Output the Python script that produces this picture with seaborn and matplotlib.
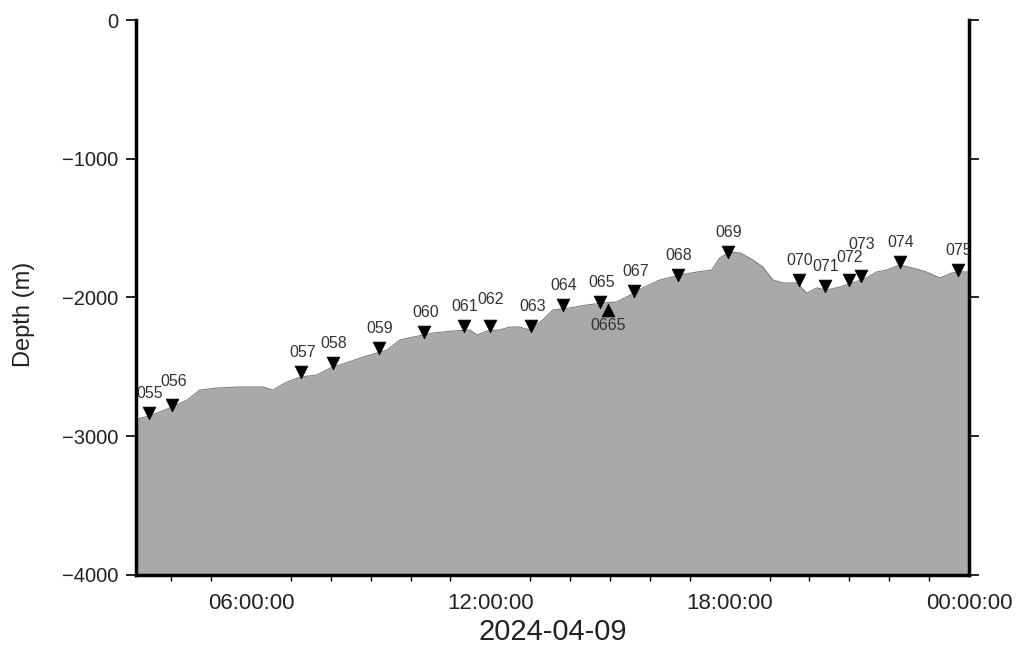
import matplotlib
matplotlib.use("Agg")
import matplotlib.pyplot as plt
import matplotlib.dates as mdates
import seaborn as sns
import pandas as pd

# ---- data ----
DAY = "2024-04-09"
profile_times = ["03:07", "03:28", "03:58", "04:24", "04:43", "05:09", "05:43", "06:18",
                 "06:33", "06:41", "06:54", "07:14", "07:39", "07:59", "08:14", "08:49",
                 "09:25", "09:44", "10:04", "10:34", "11:04", "11:29", "11:40", "11:55",
                 "12:14", "12:29", "12:44", "12:59", "13:19", "13:34", "13:59", "14:25",
                 "14:49", "15:10", "15:25", "15:49", "16:15", "16:45", "17:11", "17:33",
                 "17:45", "18:00", "18:16", "18:35", "18:50", "19:05", "19:20", "19:41",
                 "19:56", "20:11", "20:26", "20:46", "21:05", "21:26", "21:41", "21:56",
                 "22:16", "22:35", "22:56", "23:16", "23:35", "23:50", "23:59"]
profile_depth = [-2876, -2854, -2796, -2739, -2667, -2652, -2645, -2645,
                 -2667, -2645, -2609, -2573, -2559, -2508, -2486, -2429,
                 -2378, -2306, -2285, -2256, -2241, -2234, -2270, -2241,
                 -2234, -2213, -2213, -2234, -2162, -2090, -2076, -2054,
                 -2040, -2032, -1996, -1931, -1874, -1838, -1816, -1802,
                 -1715, -1672, -1679, -1730, -1780, -1874, -1895, -1895,
                 -1968, -1931, -1946, -1924, -1895, -1859, -1816, -1802,
                 -1766, -1787, -1816, -1859, -1823, -1816, -1816]

station_names = ["055", "056", "057", "058", "059", "060", "061", "062", "063", "064",
                 "065", "067", "068", "069", "070", "071", "072", "073", "074", "075"]
station_times = ["03:26", "04:01", "07:15", "08:03", "09:12", "10:20", "11:20", "11:59",
                 "13:01", "13:49", "14:45", "15:36", "16:42", "17:57", "19:44", "20:23",
                 "20:59", "21:17", "22:16", "23:43"]
station_depth = [-2832, -2775, -2537, -2472, -2364, -2249, -2205, -2205, -2205, -2054,
                 -2032, -1953, -1838, -1672, -1874, -1917, -1874, -1845, -1744, -1802]

up_names = ["0665"]
up_times = ["14:57"]
up_depth = [-2090]

y_ticks = [0, -1000, -2000, -3000, -4000]

# ---- frames ----
prof = pd.DataFrame({"time": pd.to_datetime([f"{DAY} {t}" for t in profile_times]),
                     "depth": profile_depth})
st = pd.DataFrame({"time": pd.to_datetime([f"{DAY} {t}" for t in station_times]),
                   "depth": station_depth, "name": station_names})
up = pd.DataFrame({"time": pd.to_datetime([f"{DAY} {t}" for t in up_times]),
                   "depth": up_depth, "name": up_names})

sns.set_style("white")
plt.rcParams["font.family"] = ["Liberation Sans", "DejaVu Sans"]

fig = plt.figure(figsize=(10.16, 6.48), dpi=100)
ax = fig.add_axes([0.1339, 0.1127, 0.8198, 0.8564])

ax.fill_between(prof["time"], prof["depth"], -4000, color="#a9a9a9", linewidth=0, zorder=1)
sns.lineplot(data=prof, x="time", y="depth", ax=ax, color="#7f7f7f", linewidth=0.8, zorder=2)

sns.scatterplot(data=st, x="time", y="depth", ax=ax, marker="v", s=85, color="black",
                edgecolor="black", linewidth=0.5, zorder=4, legend=False)
sns.scatterplot(data=up, x="time", y="depth", ax=ax, marker="^", s=85, color="black",
                edgecolor="black", linewidth=0.5, zorder=4, legend=False)

# label nudges (points) to avoid overlaps, as in the reference
extra = {"056": 3, "062": 5, "072": 2, "073": 9}
for _, r in st.iterrows():
    t = ax.annotate(r["name"], (r["time"], r["depth"]), xytext=(1, 14 + extra.get(r["name"], 0)),
                    textcoords="offset points", ha="center", va="center", fontsize=11.5,
                    color="#333333", zorder=5)
    t.set_clip_path(ax.patch)
for _, r in up.iterrows():
    t = ax.annotate(r["name"], (r["time"], r["depth"]), xytext=(0, -11),
                    textcoords="offset points", ha="center", va="center", fontsize=11.5,
                    color="#333333", zorder=5)
    t.set_clip_path(ax.patch)

ax.set_xlim(pd.Timestamp(f"{DAY} 03:07"), pd.Timestamp("2024-04-10 00:00"))
ax.set_ylim(-4000, 0)
ax.set_yticks(y_ticks)
ax.set_yticklabels([f"{v}".replace("-", "\u2212") for v in y_ticks])

ax.xaxis.set_major_locator(mdates.HourLocator(byhour=[0, 6, 12, 18]))
ax.xaxis.set_minor_locator(mdates.HourLocator())
ax.xaxis.set_major_formatter(mdates.DateFormatter("%H:%M:%S"))

ax.set_xlabel(DAY, fontsize=21, color="#222222", labelpad=3)
ax.set_ylabel("Depth (m)", fontsize=17, color="#222222")
ax.yaxis.set_label_coords(-0.121, 0.47)

for side in ["left", "right", "bottom"]:
    ax.spines[side].set_visible(True)
    ax.spines[side].set_linewidth(2.5)
    ax.spines[side].set_color("black")
ax.spines["top"].set_visible(False)

ax.tick_params(axis="x", which="major", direction="out", length=7, width=1.2,
               labelsize=16, labelcolor="#222222", color="black", pad=6)
ax.tick_params(axis="y", which="major", direction="out", length=7, width=1.2,
               labelsize=14.5, labelcolor="#222222", color="black", pad=6,
               left=True, right=True, labelright=False)
ax.tick_params(axis="x", which="minor", direction="out", length=4, width=1.0, color="black",
               bottom=True)

ax.set_facecolor("white")
fig.savefig("out.png", dpi=100, facecolor="white")
